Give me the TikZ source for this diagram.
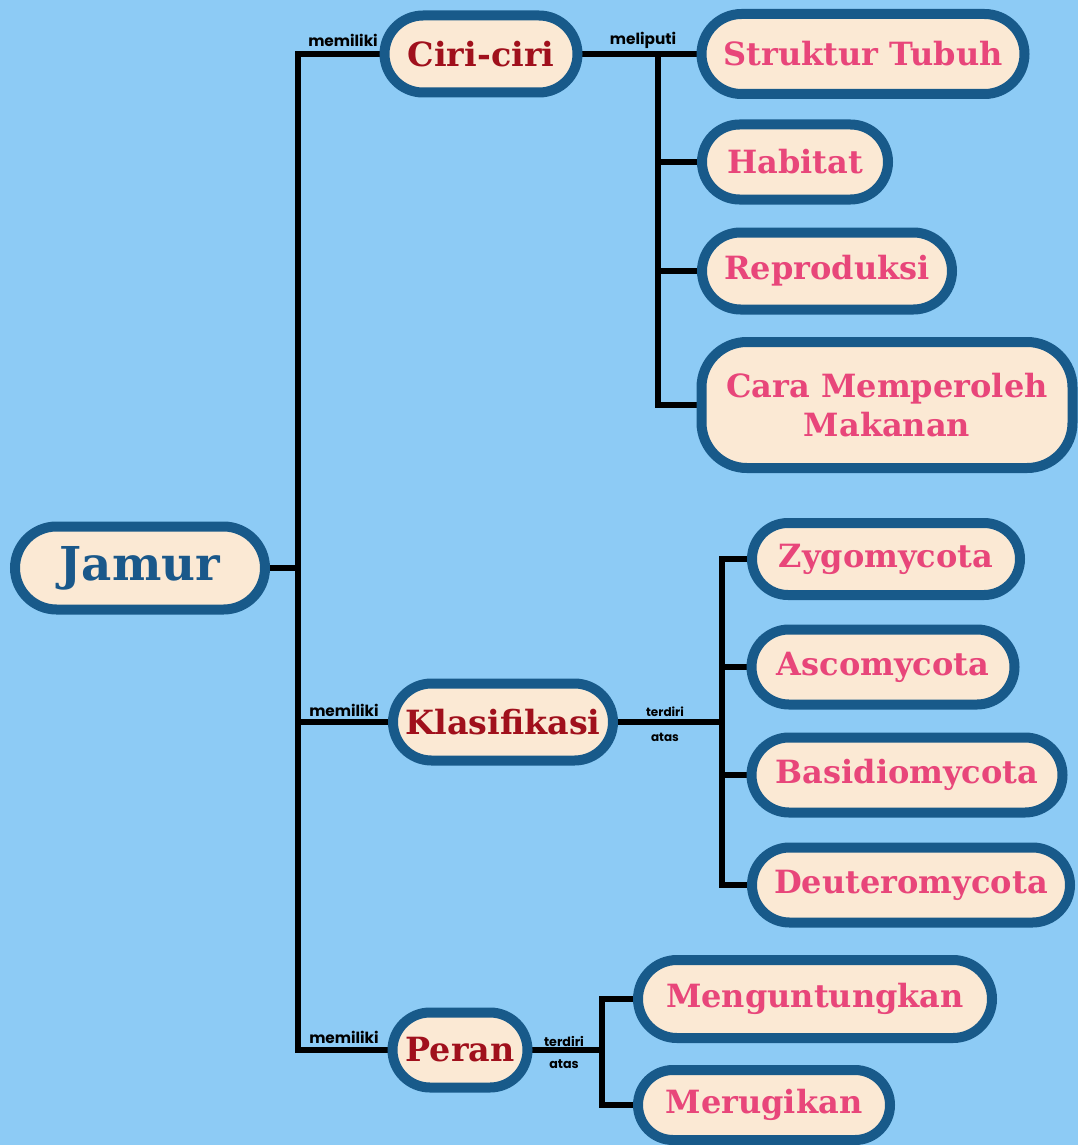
\documentclass[tikz,border=0pt]{standalone}
\usepackage{fontspec}
\setmainfont{DejaVu Serif}
\newfontfamily\lblfont{Poppins}
\usetikzlibrary{backgrounds,shapes.misc}
\definecolor{bgblue}{RGB}{141,203,245}
\definecolor{rim}{RGB}{24,90,138}
\definecolor{cream}{RGB}{251,233,212}
\definecolor{rootc}{RGB}{26,88,138}
\definecolor{midc}{RGB}{160,16,28}
\definecolor{leafc}{RGB}{232,70,122}
\newlength\px
\setlength\px{0.75pt}

\begin{document}
\begin{tikzpicture}[x=0.75pt,y=-0.75pt,
    box/.style={rounded rectangle,draw=rim,fill=cream,line width=7.5pt,
      inner sep=0pt,align=center,font=\bfseries},
    root/.style={box,text=rootc,font=\bfseries\fontsize{35}{40}\selectfont},
    mid/.style={box,text=midc,font=\bfseries\fontsize{25}{30}\selectfont},
    leaf/.style={box,text=leafc,font=\bfseries\fontsize{24}{29}\selectfont},
    link/.style={line width=3.8pt,line cap=rect},
    lbl/.style={font=\lblfont\bfseries\fontsize{11.5}{13}\selectfont,inner sep=1pt}]
  \useasboundingbox (0,0) rectangle (1078,1145);
  % main nodes
  \node[root,minimum width=250\px,minimum height=83\px] (jamur) at (140,568) {Jamur};
  \node[mid,minimum width=193\px,minimum height=77\px] (ciri) at (481,54) {Ciri-ciri};
  \node[mid,minimum width=220\px,minimum height=77\px] (klas) at (503,722) {Klasifikasi};
  \node[mid,minimum width=135\px,minimum height=75\px] (peran) at (460,1050) {Peran};
  % ciri-ciri
  \node[leaf,minimum width=323\px,minimum height=80\px] (struktur) at (863,54) {Struktur Tubuh};
  \node[leaf,minimum width=186\px,minimum height=75\px] (habitat) at (795,162) {Habitat};
  \node[leaf,minimum width=250\px,minimum height=77\px] (repro) at (827,271) {Reproduksi};
  \node[leaf,rectangle,rounded corners=34pt,minimum width=371\px,minimum height=126\px] (cara) at (887,405) {Cara Memperoleh\\Makanan};
  % klasifikasi
  \node[leaf,minimum width=268\px,minimum height=72\px] (zygo) at (886,559) {Zygomycota};
  \node[leaf,minimum width=263\px,minimum height=75\px] (asco) at (883,667) {Ascomycota};
  \node[leaf,minimum width=311\px,minimum height=75\px] (basid) at (907,775) {Basidiomycota};
  \node[leaf,minimum width=318\px,minimum height=75\px] (deut) at (911,885) {Deuteromycota};
  % peran
  \node[leaf,minimum width=354\px,minimum height=78\px] (untung) at (815,999) {Menguntungkan};
  \node[leaf,minimum width=252\px,minimum height=70\px] (rugi) at (764,1105) {Merugikan};

  \coordinate (t0) at (298,0);
  \coordinate (t1) at (658,0);
  \coordinate (t2) at (722,0);
  \coordinate (t3) at (602,0);

  \begin{scope}[on background layer]
  \fill[bgblue] (0,0) rectangle (1078,1145);
  \draw[link] (jamur.east) -- (jamur.east -| t0);
  \draw[link] (ciri.west) -- (ciri.west -| t0) -- (peran.west -| t0) -- (peran.west);
  \draw[link] (klas.west) -- (klas.west -| t0);
  \draw[link] (ciri.east) -- (struktur.west);
  \draw[link] (ciri.east -| t1) -- (cara.west -| t1) -- (cara.west);
  \draw[link] (habitat.west -| t1) -- (habitat.west);
  \draw[link] (repro.west -| t1) -- (repro.west);
  \draw[link] (klas.east) -- (klas.east -| t2);
  \draw[link] (zygo.west) -- (zygo.west -| t2) -- (deut.west -| t2) -- (deut.west);
  \draw[link] (asco.west -| t2) -- (asco.west);
  \draw[link] (basid.west -| t2) -- (basid.west);
  \draw[link] (peran.east) -- (peran.east -| t3);
  \draw[link] (untung.west) -- (untung.west -| t3) -- (rugi.west -| t3) -- (rugi.west);
  \end{scope}

  % labels
  \node[lbl] (m1) at (343,40) {memiliki};
  \node[lbl] (m2) at (344,710) {memiliki};
  \node[lbl] (m3) at (344,1037) {memiliki};
  \node[lbl] (m4) at (643,40) {meliputi};
  \node[lbl,align=center,font=\lblfont\bfseries\fontsize{9}{19}\selectfont] (m5) at (665,724) {terdiri\\atas};
  \node[lbl,align=center,font=\lblfont\bfseries\fontsize{9.5}{16.5}\selectfont] (m6) at (564,1052) {terdiri\\atas};
\end{tikzpicture}
\end{document}
